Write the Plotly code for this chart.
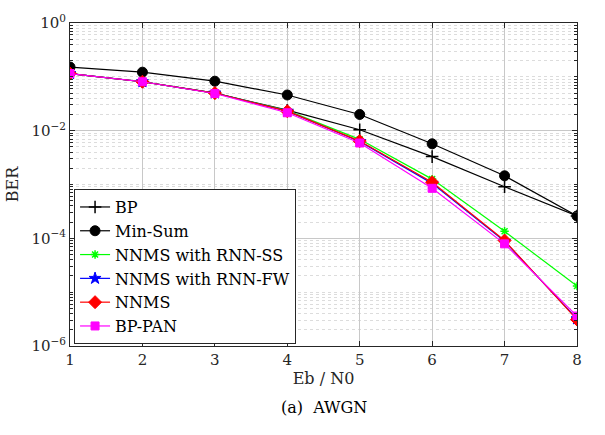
import plotly.graph_objects as go

ebn0 = [1, 2, 3, 4, 5, 6, 7, 8]
ber_bp = [0.115, 0.081, 0.050, 0.024, 0.0104, 0.0033, 0.00091, 0.00026]
ber_minsum = [0.152, 0.122, 0.083, 0.046, 0.020, 0.0057, 0.00145, 0.00026]
ber_rnn_ss = [0.115, 0.081, 0.050, 0.0235, 0.0069, 0.00126, 0.000135, 0.000013]
ber_rnn_fw = [0.115, 0.081, 0.050, 0.023, 0.0063, 0.00105, 0.000088, 0.0000032]
ber_nnms = [0.115, 0.081, 0.050, 0.023, 0.0064, 0.0011, 0.000091, 0.0000031]
ber_bppan = [0.115, 0.081, 0.049, 0.0215, 0.0059, 0.00085, 0.000079, 0.0000036]

ytick_vals = [1e-6, 1e-4, 1e-2, 1]
ytick_text = ["10<sup>−6</sup>", "10<sup>−4</sup>", "10<sup>−2</sup>", "10<sup>0</sup>"]

series = [
    ("BP", ber_bp, "black", "cross-thin", 9, 1.5),
    ("Min-Sum", ber_minsum, "black", "circle", 10, 1),
    ("NNMS with RNN-SS", ber_rnn_ss, "#00ff00", "asterisk", 7, 1.5),
    ("NNMS with RNN-FW", ber_rnn_fw, "#0000ff", "star", 9, 1),
    ("NNMS", ber_nnms, "#ff0000", "diamond", 10, 1),
    ("BP-PAN", ber_bppan, "#ff00ff", "square", 8, 1),
]

FONT = "DejaVu Serif"
fig = go.Figure()
for name, y, col, sym, size, lw in series:
    fig.add_trace(go.Scatter(
        x=ebn0, y=y, name=name, mode="lines+markers",
        line=dict(color=col, width=1.2),
        marker=dict(symbol=sym, size=size, color=col,
                    line=dict(color=col, width=lw)),
    ))

fig.update_layout(
    width=605, height=435,
    margin=dict(l=70, r=28, t=16, b=89),
    paper_bgcolor="white", plot_bgcolor="white",
    font=dict(family=FONT, size=15, color="#262626"),
    showlegend=True,
    legend=dict(
        x=0.008, y=0.006, xanchor="left", yanchor="bottom",
        bgcolor="white", bordercolor="#262626", borderwidth=1,
        font=dict(family=FONT, size=16, color="black"),
        itemwidth=30, tracegroupgap=0,
    ),
    xaxis=dict(
        range=[1, 8], dtick=1, tick0=1,
        showgrid=True, gridcolor="#c8c8c8", gridwidth=1,
        ticks="inside", ticklen=5, tickcolor="#262626",
        showline=True, linecolor="#262626", linewidth=1, mirror="ticks",
        zeroline=False,
        title=dict(text="Eb / N0", font=dict(family=FONT, size=16), standoff=4),
        tickfont=dict(family=FONT, size=15),
    ),
    yaxis=dict(
        type="log", range=[-6, 0],
        tickmode="array", tickvals=ytick_vals, ticktext=ytick_text,
        showgrid=True, gridcolor="#c8c8c8", gridwidth=1,
        ticks="inside", ticklen=5, tickcolor="#262626",
        showline=True, linecolor="#262626", linewidth=1, mirror="ticks",
        zeroline=False,
        minor=dict(dtick="D1", showgrid=True, gridcolor="#dcdcdc",
                   griddash="dot", ticks="inside", ticklen=3,
                   tickcolor="#262626"),
        title=dict(text="BER", font=dict(family=FONT, size=16), standoff=8),
        tickfont=dict(family=FONT, size=15),
    ),
    annotations=[dict(
        text="(a)  AWGN", xref="paper", yref="paper",
        x=0.5, y=-0.19, xanchor="center", yanchor="middle",
        showarrow=False, font=dict(family=FONT, size=16, color="black"),
    )],
)

fig.write_html("out.html")
